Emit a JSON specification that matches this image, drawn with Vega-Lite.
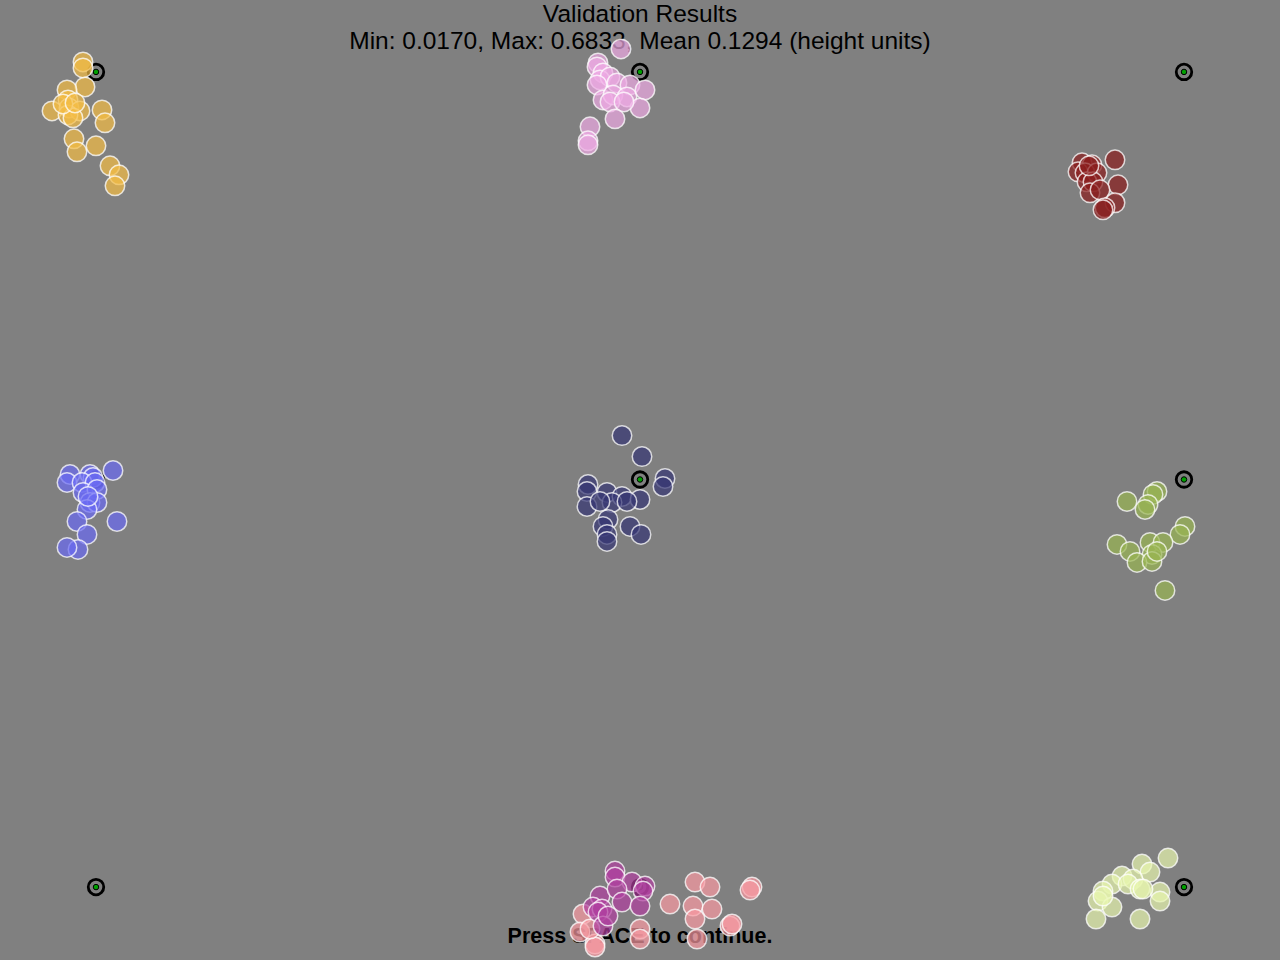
{
  "$schema": "https://vega.github.io/schema/vega-lite/v6.json",
  "width": 1280,
  "height": 960,
  "autosize": {"type": "fit", "contains": "padding"},
  "padding": 0,
  "background": "#808080",
  "config": {"view": {"stroke": null, "fill": "#808080"}},
  "datasets": {
    "targets": [
      {"x": 96, "y": 72}, {"x": 640, "y": 72}, {"x": 1184, "y": 72},
      {"x": 96, "y": 480}, {"x": 640, "y": 480}, {"x": 1184, "y": 480},
      {"x": 96, "y": 888}, {"x": 640, "y": 888}, {"x": 1184, "y": 888}
    ],
    "samples": [
      {"g": "A", "x": 83, "y": 62}, {"g": "A", "x": 83, "y": 68}, {"g": "A", "x": 85, "y": 87}, {"g": "A", "x": 67, "y": 90},
      {"g": "A", "x": 68, "y": 100}, {"g": "A", "x": 52, "y": 111}, {"g": "A", "x": 69, "y": 108}, {"g": "A", "x": 80, "y": 111},
      {"g": "A", "x": 68, "y": 115}, {"g": "A", "x": 73, "y": 118}, {"g": "A", "x": 102, "y": 110}, {"g": "A", "x": 105, "y": 123},
      {"g": "A", "x": 74, "y": 139}, {"g": "A", "x": 77, "y": 152}, {"g": "A", "x": 96, "y": 146}, {"g": "A", "x": 110, "y": 166},
      {"g": "A", "x": 119, "y": 175}, {"g": "A", "x": 115, "y": 186}, {"g": "A", "x": 63, "y": 104}, {"g": "A", "x": 75, "y": 103},

      {"g": "B", "x": 621, "y": 49}, {"g": "B", "x": 598, "y": 63}, {"g": "B", "x": 597, "y": 67}, {"g": "B", "x": 603, "y": 73},
      {"g": "B", "x": 600, "y": 80}, {"g": "B", "x": 610, "y": 77}, {"g": "B", "x": 597, "y": 85}, {"g": "B", "x": 617, "y": 83},
      {"g": "B", "x": 630, "y": 85}, {"g": "B", "x": 603, "y": 100}, {"g": "B", "x": 613, "y": 95}, {"g": "B", "x": 627, "y": 97},
      {"g": "B", "x": 645, "y": 90}, {"g": "B", "x": 640, "y": 108}, {"g": "B", "x": 610, "y": 102}, {"g": "B", "x": 624, "y": 102},
      {"g": "B", "x": 615, "y": 119}, {"g": "B", "x": 590, "y": 127}, {"g": "B", "x": 588, "y": 141}, {"g": "B", "x": 588, "y": 145},

      {"g": "C", "x": 1082, "y": 163}, {"g": "C", "x": 1092, "y": 165}, {"g": "C", "x": 1115, "y": 160}, {"g": "C", "x": 1078, "y": 172},
      {"g": "C", "x": 1085, "y": 173}, {"g": "C", "x": 1097, "y": 173}, {"g": "C", "x": 1087, "y": 182}, {"g": "C", "x": 1093, "y": 182},
      {"g": "C", "x": 1118, "y": 185}, {"g": "C", "x": 1090, "y": 193}, {"g": "C", "x": 1100, "y": 190}, {"g": "C", "x": 1115, "y": 203},
      {"g": "C", "x": 1105, "y": 208}, {"g": "C", "x": 1103, "y": 210}, {"g": "C", "x": 1089, "y": 166},

      {"g": "D", "x": 113, "y": 471}, {"g": "D", "x": 70, "y": 475}, {"g": "D", "x": 90, "y": 475}, {"g": "D", "x": 93, "y": 478},
      {"g": "D", "x": 67, "y": 483}, {"g": "D", "x": 82, "y": 483}, {"g": "D", "x": 95, "y": 483}, {"g": "D", "x": 83, "y": 493},
      {"g": "D", "x": 97, "y": 490}, {"g": "D", "x": 90, "y": 503}, {"g": "D", "x": 97, "y": 503}, {"g": "D", "x": 87, "y": 510},
      {"g": "D", "x": 77, "y": 522}, {"g": "D", "x": 117, "y": 522}, {"g": "D", "x": 87, "y": 535}, {"g": "D", "x": 78, "y": 550},
      {"g": "D", "x": 67, "y": 548}, {"g": "D", "x": 88, "y": 497},

      {"g": "E", "x": 622, "y": 436}, {"g": "E", "x": 642, "y": 457}, {"g": "E", "x": 665, "y": 479}, {"g": "E", "x": 663, "y": 487},
      {"g": "E", "x": 588, "y": 485}, {"g": "E", "x": 587, "y": 492}, {"g": "E", "x": 587, "y": 507}, {"g": "E", "x": 607, "y": 493},
      {"g": "E", "x": 622, "y": 497}, {"g": "E", "x": 612, "y": 503}, {"g": "E", "x": 640, "y": 500}, {"g": "E", "x": 627, "y": 502},
      {"g": "E", "x": 608, "y": 520}, {"g": "E", "x": 603, "y": 527}, {"g": "E", "x": 607, "y": 535}, {"g": "E", "x": 607, "y": 542},
      {"g": "E", "x": 630, "y": 527}, {"g": "E", "x": 641, "y": 535}, {"g": "E", "x": 600, "y": 502},

      {"g": "F", "x": 1157, "y": 492}, {"g": "F", "x": 1153, "y": 495}, {"g": "F", "x": 1127, "y": 502}, {"g": "F", "x": 1148, "y": 505},
      {"g": "F", "x": 1145, "y": 510}, {"g": "F", "x": 1185, "y": 527}, {"g": "F", "x": 1180, "y": 535}, {"g": "F", "x": 1117, "y": 545},
      {"g": "F", "x": 1130, "y": 552}, {"g": "F", "x": 1150, "y": 543}, {"g": "F", "x": 1163, "y": 543}, {"g": "F", "x": 1152, "y": 555},
      {"g": "F", "x": 1137, "y": 563}, {"g": "F", "x": 1152, "y": 562}, {"g": "F", "x": 1165, "y": 591}, {"g": "F", "x": 1157, "y": 552},

      {"g": "G", "x": 1168, "y": 859}, {"g": "G", "x": 1142, "y": 865}, {"g": "G", "x": 1150, "y": 873}, {"g": "G", "x": 1122, "y": 877},
      {"g": "G", "x": 1133, "y": 880}, {"g": "G", "x": 1112, "y": 885}, {"g": "G", "x": 1128, "y": 885}, {"g": "G", "x": 1140, "y": 890},
      {"g": "G", "x": 1103, "y": 892}, {"g": "G", "x": 1160, "y": 893}, {"g": "G", "x": 1160, "y": 902}, {"g": "G", "x": 1098, "y": 902},
      {"g": "G", "x": 1112, "y": 908}, {"g": "G", "x": 1096, "y": 920}, {"g": "G", "x": 1140, "y": 920}, {"g": "G", "x": 1143, "y": 890},
      {"g": "G", "x": 1103, "y": 897},

      {"g": "H", "x": 583, "y": 915}, {"g": "H", "x": 580, "y": 933}, {"g": "H", "x": 595, "y": 945}, {"g": "H", "x": 595, "y": 948},
      {"g": "H", "x": 640, "y": 930}, {"g": "H", "x": 640, "y": 940}, {"g": "H", "x": 670, "y": 905}, {"g": "H", "x": 695, "y": 883},
      {"g": "H", "x": 710, "y": 888}, {"g": "H", "x": 752, "y": 888}, {"g": "H", "x": 750, "y": 891}, {"g": "H", "x": 693, "y": 907},
      {"g": "H", "x": 712, "y": 910}, {"g": "H", "x": 695, "y": 920}, {"g": "H", "x": 697, "y": 940}, {"g": "H", "x": 730, "y": 927},
      {"g": "H", "x": 732, "y": 925}, {"g": "H", "x": 590, "y": 930},

      {"g": "I", "x": 615, "y": 872}, {"g": "I", "x": 615, "y": 878}, {"g": "I", "x": 632, "y": 883}, {"g": "I", "x": 645, "y": 887},
      {"g": "I", "x": 643, "y": 892}, {"g": "I", "x": 600, "y": 897}, {"g": "I", "x": 617, "y": 890}, {"g": "I", "x": 622, "y": 903},
      {"g": "I", "x": 640, "y": 907}, {"g": "I", "x": 593, "y": 908}, {"g": "I", "x": 602, "y": 910}, {"g": "I", "x": 598, "y": 913},
      {"g": "I", "x": 603, "y": 927}, {"g": "I", "x": 608, "y": 917}
    ]
  },
  "layer": [
    {
      "data": {"values": [{"label": "Validation Results", "x": 640, "y": 22}, {"label": "Min: 0.0170, Max: 0.6833, Mean 0.1294 (height units)", "x": 640, "y": 49}]},
      "mark": {"type": "text", "font": "Liberation Sans", "fontSize": 24.5, "color": "black", "align": "center", "baseline": "alphabetic"},
      "encoding": {
        "x": {"field": "x", "type": "quantitative", "scale": {"domain": [0, 1280], "nice": false, "zero": false}, "axis": null},
        "y": {"field": "y", "type": "quantitative", "scale": {"domain": [0, 960], "nice": false, "zero": false, "reverse": true}, "axis": null},
        "text": {"field": "label"}
      }
    },
    {
      "data": {"values": [{"label": "Press SPACE to continue.", "x": 640, "y": 944}]},
      "mark": {"type": "text", "font": "Liberation Sans", "fontSize": 21.5, "fontWeight": "bold", "color": "black", "align": "center", "baseline": "alphabetic"},
      "encoding": {
        "x": {"field": "x", "type": "quantitative", "scale": {"domain": [0, 1280], "nice": false, "zero": false}, "axis": null},
        "y": {"field": "y", "type": "quantitative", "scale": {"domain": [0, 960], "nice": false, "zero": false, "reverse": true}, "axis": null},
        "text": {"field": "label"}
      }
    },
    {
      "data": {"name": "targets"},
      "mark": {"type": "point", "shape": "circle", "filled": false, "stroke": "black", "strokeWidth": 2.8, "size": 240, "opacity": 1},
      "encoding": {
        "x": {"field": "x", "type": "quantitative", "scale": {"domain": [0, 1280], "nice": false, "zero": false}, "axis": null},
        "y": {"field": "y", "type": "quantitative", "scale": {"domain": [0, 960], "nice": false, "zero": false, "reverse": true}, "axis": null}
      }
    },
    {
      "data": {"name": "targets"},
      "mark": {"type": "point", "shape": "circle", "filled": true, "fill": "#00a000", "stroke": "black", "strokeWidth": 1, "size": 30, "opacity": 1},
      "encoding": {
        "x": {"field": "x", "type": "quantitative", "scale": {"domain": [0, 1280], "nice": false, "zero": false}, "axis": null},
        "y": {"field": "y", "type": "quantitative", "scale": {"domain": [0, 960], "nice": false, "zero": false, "reverse": true}, "axis": null}
      }
    },
    {
      "data": {"name": "samples"},
      "mark": {"type": "point", "shape": "circle", "filled": true, "size": 380, "stroke": "white", "strokeWidth": 1.5, "strokeOpacity": 0.75, "fillOpacity": 0.7},
      "encoding": {
        "x": {"field": "x", "type": "quantitative", "scale": {"domain": [0, 1280], "nice": false, "zero": false}, "axis": null},
        "y": {"field": "y", "type": "quantitative", "scale": {"domain": [0, 960], "nice": false, "zero": false, "reverse": true}, "axis": null},
        "fill": {
          "field": "g", "type": "nominal", "legend": null,
          "scale": {
            "domain": ["A", "B", "C", "D", "E", "F", "G", "H", "I"],
            "range": ["#f4bc45", "#eeaae4", "#8a1c1c", "#6a6af2", "#343474", "#98b551", "#e7f5ae", "#fa9aa2", "#b03fa0"]
          }
        }
      }
    }
  ]
}
